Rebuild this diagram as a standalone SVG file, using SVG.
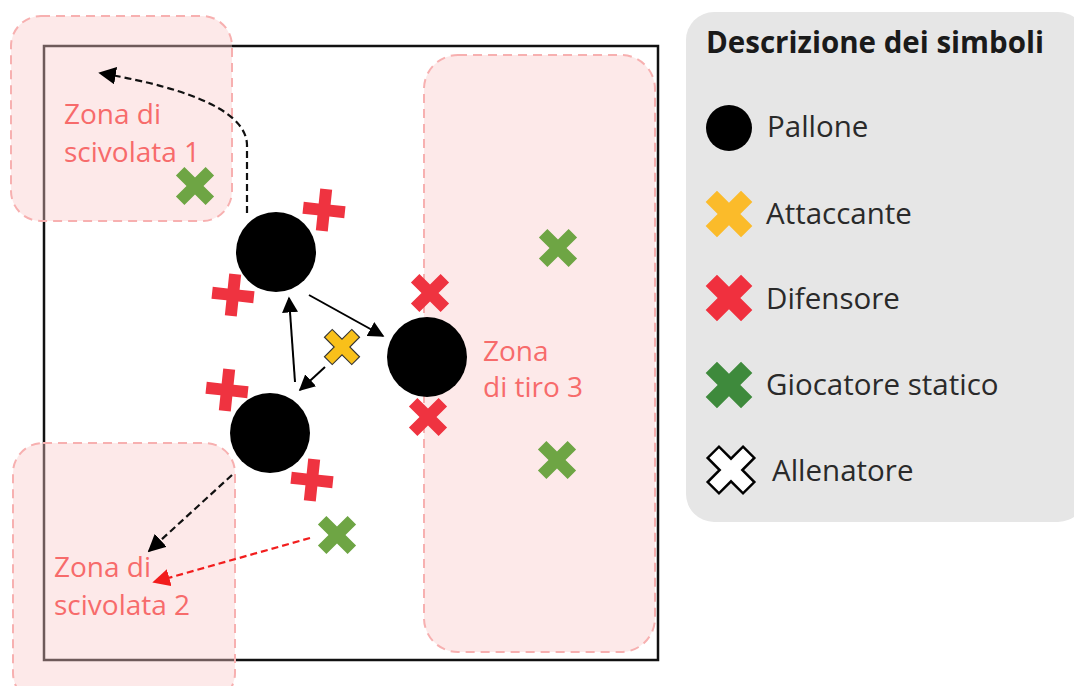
<svg xmlns="http://www.w3.org/2000/svg" width="1074" height="686" viewBox="0 0 1074 686">
  <style>
    .zone { fill: #f9c9c9; fill-opacity: 0.4; stroke: #f7b0b0; stroke-width: 2; stroke-dasharray: 9 6; }
    .zlabel { font-family: "Open Sans", "Noto Sans", sans-serif; font-size: 28px; fill: #f76b6b; }
    .legtxt { font-family: "Open Sans", "Noto Sans", sans-serif; font-size: 29.5px; fill: #2a2a2a; }
    .legtitle { font-family: "Open Sans", "Noto Sans", sans-serif; font-size: 29.5px; font-weight: bold; fill: #1a1a1a; }
    .ball { fill: #000; }
    .def { fill: #ef3340; }
    .stat { fill: #6ea544; }
    .att { fill: #f9c01a; stroke: #333; stroke-width: 1.2; }
    .solid { stroke: #000; stroke-width: 2; fill: none; }
    .dash { stroke: #111; stroke-width: 2.2; fill: none; stroke-dasharray: 7 4; }
    .dashred { stroke: #f21d1d; stroke-width: 2.2; fill: none; stroke-dasharray: 7 4; }
  </style>
  <defs>
    <!-- plus-shaped player mark; rotated 45deg it becomes an X -->
    <path id="plus" d="M -6,-21 H 6 V -6 H 21 V 6 H 6 V 21 H -6 V 6 H -21 V -6 H -6 Z"/>
    <path id="plusL" d="M -8,-25 H 8 V -8 H 25 V 8 H 8 V 25 H -8 V 8 H -25 V -8 H -8 Z"/>
    <marker id="ahL" viewBox="0 0 10 10" refX="9" refY="5" markerWidth="8" markerHeight="8" orient="auto">
      <path d="M0,0 L10,5 L0,10 Z" fill="#000"/>
    </marker>
    <marker id="ahR" viewBox="0 0 10 10" refX="9" refY="5" markerWidth="8" markerHeight="8" orient="auto">
      <path d="M0,0 L10,5 L0,10 Z" fill="#f21d1d"/>
    </marker>
  </defs>

  <rect width="1074" height="686" fill="#fff"/>

  <!-- playing field -->
  <rect id="field" x="44" y="46" width="614" height="614" fill="none" stroke="#111" stroke-width="2.5"/>

  <!-- zones -->
  <g id="zone1">
    <rect class="zone" x="11" y="16" width="221" height="205" rx="30"/>
    <text class="zlabel" x="64" y="124">Zona di</text>
    <text class="zlabel" x="64" y="162">scivolata 1</text>
  </g>
  <g id="zone2">
    <rect class="zone" x="13" y="443" width="222" height="260" rx="30"/>
    <text class="zlabel" x="54" y="577">Zona di</text>
    <text class="zlabel" x="54" y="615">scivolata 2</text>
  </g>
  <g id="zone3">
    <rect class="zone" x="424" y="55" width="231" height="597" rx="34"/>
    <text class="zlabel" x="483" y="361">Zona</text>
    <text class="zlabel" x="483" y="397">di tiro 3</text>
  </g>

  <!-- connectors -->
  <g id="connectors">
    <path class="solid" d="M 295,382 L 289,298" marker-end="url(#ahL)"/>
    <path class="solid" d="M 309,295 L 383,336" marker-end="url(#ahL)"/>
    <path class="solid" d="M 325,367 L 300,390" marker-end="url(#ahL)"/>
    <path class="dash" d="M 247,213 L 247,145 Q 246,98 100,73" marker-end="url(#ahL)"/>
    <path class="dash" d="M 232,475 L 149,551" marker-end="url(#ahL)"/>
    <path class="dashred" d="M 310,538 L 154,582" marker-end="url(#ahR)"/>
  </g>

  <!-- balls -->
  <g id="ball1"><circle class="ball" cx="276" cy="252" r="40"/></g>
  <g id="ball2"><circle class="ball" cx="427" cy="357" r="40"/></g>
  <g id="ball3"><circle class="ball" cx="270" cy="433" r="40"/></g>

  <!-- defenders -->
  <g id="def1"><use href="#plus" class="def" transform="translate(324,210) rotate(6)"/></g>
  <g id="def2"><use href="#plus" class="def" transform="translate(233,295) rotate(6)"/></g>
  <g id="def3"><use href="#plus" class="def" transform="translate(227,390) rotate(6)"/></g>
  <g id="def4"><use href="#plus" class="def" transform="translate(312,480) rotate(6)"/></g>
  <g id="def5"><use href="#plus" class="def" transform="translate(430,293) rotate(45)"/></g>
  <g id="def6"><use href="#plus" class="def" transform="translate(428,417) rotate(45)"/></g>

  <!-- attacker -->
  <g id="attacker"><use href="#plus" class="att" transform="translate(342,347) rotate(45) scale(0.92)"/></g>

  <!-- static players -->
  <g id="stat1"><use href="#plus" class="stat" transform="translate(195,186) rotate(45)"/></g>
  <g id="stat2"><use href="#plus" class="stat" transform="translate(558,248) rotate(45)"/></g>
  <g id="stat3"><use href="#plus" class="stat" transform="translate(557,460) rotate(45)"/></g>
  <g id="stat4"><use href="#plus" class="stat" transform="translate(337,535) rotate(45)"/></g>

  <!-- legend -->
  <g id="legend">
    <rect x="686" y="12" width="400" height="510" rx="28" fill="#e6e6e6"/>
    <text class="legtitle" x="706" y="53">Descrizione dei simboli</text>
    <circle cx="729" cy="128" r="23" fill="#000"/>
    <text class="legtxt" x="767" y="137">Pallone</text>
    <use href="#plusL" fill="#fbbb2a" transform="translate(729,214) rotate(45)"/>
    <text class="legtxt" x="766" y="224">Attaccante</text>
    <use href="#plusL" fill="#f0303e" transform="translate(729,298) rotate(45)"/>
    <text class="legtxt" x="766" y="309">Difensore</text>
    <use href="#plusL" fill="#3e8a3c" transform="translate(729,385) rotate(45)"/>
    <text class="legtxt" x="766" y="395">Giocatore statico</text>
    <use href="#plusL" fill="#fff" stroke="#000" stroke-width="2.5" transform="translate(731,470) rotate(45)"/>
    <text class="legtxt" x="772" y="481">Allenatore</text>
  </g>
</svg>
